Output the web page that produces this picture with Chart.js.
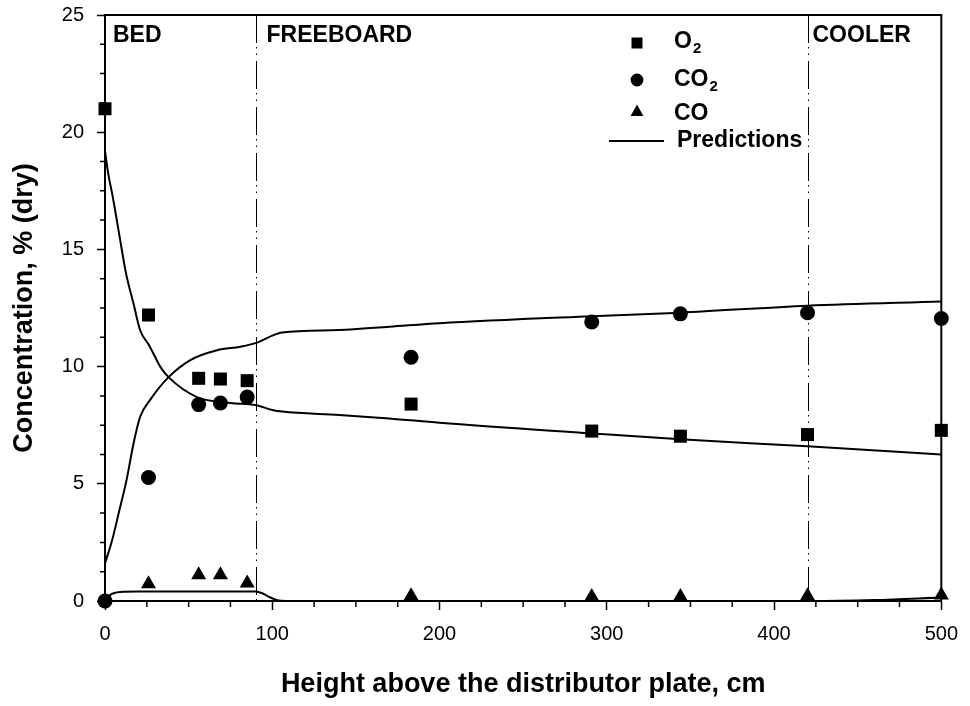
<!DOCTYPE html>
<html>
<head>
<meta charset="utf-8">
<script src="https://cdn.jsdelivr.net/npm/chart.js@4.4.1/dist/chart.umd.min.js"></script>
<style>
  html, body { margin: 0; padding: 0; background: #fff; }
  #wrap { width: 970px; height: 706px; }
</style>
</head>
<body>
<div id="wrap"><canvas id="c" width="970" height="706"></canvas></div>
<script>
// Measured gas concentrations (% dry) along the combustor height (cm)
const sampleHeights = [0, 26, 56, 69, 85, 183, 291, 344, 420, 500];
const o2Measured    = [21.0, 12.2, 9.5, 9.47, 9.4, 8.4, 7.25, 7.03, 7.1, 7.28];
const co2Measured   = [0, 5.27, 8.38, 8.45, 8.7, 10.4, 11.9, 12.25, 12.3, 12.05];
const coHeights     = [26, 56, 69, 85, 183, 291, 344, 420, 500];
const coMeasured    = [0.73, 1.11, 1.11, 0.76, 0.22, 0.18, 0.18, 0.22, 0.25];

// Model predictions
const o2PredHeights = [0, 2, 4.5, 8.6, 12.5, 17, 21, 26, 29, 33, 38, 55, 75, 90, 100, 106, 140, 170, 200, 291, 344, 420, 500];
const o2Predicted   = [19.2, 18.2, 17.3, 15.6, 14.0, 12.7, 11.55, 10.95, 10.55, 10.0, 9.55, 8.7, 8.45, 8.36, 8.15, 8.08, 7.94, 7.79, 7.6, 7.15, 6.9, 6.6, 6.25];
const co2PredHeights = [0, 4.3, 8.2, 13, 17, 21, 27, 38, 51, 67, 81, 90, 95, 100, 106, 140, 170, 200, 291, 344, 420, 500];
const co2Predicted   = [1.6, 2.6, 3.75, 5.2, 6.7, 7.86, 8.58, 9.55, 10.28, 10.7, 10.85, 11.0, 11.15, 11.32, 11.45, 11.56, 11.7, 11.85, 12.15, 12.3, 12.6, 12.78];
const coPredHeights = [0, 3, 9, 20, 90, 94, 98, 103, 108, 420, 460, 500];
const coPredicted   = [0, 0.25, 0.38, 0.4, 0.4, 0.33, 0.18, 0.03, 0, 0, 0.04, 0.15];

// Zone boundaries and names
const zoneBoundaries = [90, 420];
const zoneNames = [
  { text: 'BED', at: 0, dx: 8 },
  { text: 'FREEBOARD', at: 90, dx: 11 },
  { text: 'COOLER', at: 420, dx: 5 }
];

const xTickValues = [0, 100, 200, 300, 400, 500];
const yTickValues = [0, 5, 10, 15, 20, 25];

const FONT = '"Liberation Sans", Arial, Helvetica, sans-serif';

const toXY = (xs, ys) => xs.map((x, i) => ({ x, y: ys[i] }));

const markerSet = (label, xs, ys, style, radius) => ({
  type: 'scatter', label, data: toXY(xs, ys),
  pointStyle: style, pointRadius: radius, pointHoverRadius: radius,
  backgroundColor: '#000', borderColor: '#000', borderWidth: 0,
  showLine: false, clip: false, order: 1
});

const predictionSet = (label, xs, ys) => ({
  type: 'line', label, data: toXY(xs, ys),
  borderColor: '#000', borderWidth: 2, pointRadius: 0,
  cubicInterpolationMode: 'monotone', fill: false, clip: false, order: 2
});

// Frame, minor ticks, zone dividers, zone names and the key
const decorations = {
  id: 'decorations',
  beforeDatasetsDraw(chart) {
    const { ctx, chartArea: a, scales: { x } } = chart;
    ctx.save();
    ctx.strokeStyle = '#000';
    ctx.lineWidth = 1;
    ctx.setLineDash([28, 4, 1.5, 5, 1.5, 6]);
    zoneBoundaries.forEach(v => {
      const px = Math.round(x.getPixelForValue(v)) + 0.5;
      ctx.beginPath();
      ctx.moveTo(px, a.top);
      ctx.lineTo(px, a.bottom);
      ctx.stroke();
    });
    ctx.restore();
  },
  afterDraw(chart) {
    const { ctx, chartArea: a, scales: { x, y } } = chart;
    ctx.save();
    ctx.strokeStyle = '#000';
    // top and right frame
    ctx.lineWidth = 2;
    ctx.beginPath();
    ctx.moveTo(a.left, a.top);
    ctx.lineTo(a.right, a.top);
    ctx.lineTo(a.right, a.bottom);
    ctx.stroke();
    // minor ticks
    ctx.lineWidth = 1.5;
    ctx.beginPath();
    for (let i = 1; i < 20; i++) {
      if (i % 4 === 0) continue;
      const py = y.getPixelForValue(i * 1.25);
      ctx.moveTo(a.left - 5, py);
      ctx.lineTo(a.left, py);
      const px = x.getPixelForValue(i * 25);
      ctx.moveTo(px, a.bottom);
      ctx.lineTo(px, a.bottom + 6);
    }
    ctx.stroke();

    // zone names
    ctx.fillStyle = '#000';
    ctx.font = 'bold 23px ' + FONT;
    ctx.textBaseline = 'alphabetic';
    ctx.textAlign = 'left';
    zoneNames.forEach(z => {
      ctx.fillText(z.text, x.getPixelForValue(z.at) + z.dx, a.top + 27);
    });

    // key
    const kx = 637, tx = 674;
    ctx.beginPath();
    ctx.rect(kx - 5.5, 37.5, 11, 11);
    ctx.fill();
    ctx.beginPath();
    ctx.arc(kx, 80, 6.4, 0, Math.PI * 2);
    ctx.fill();
    ctx.beginPath();
    ctx.moveTo(kx, 104.5);
    ctx.lineTo(kx + 6.4, 116);
    ctx.lineTo(kx - 6.4, 116);
    ctx.closePath();
    ctx.fill();
    ctx.lineWidth = 2;
    ctx.beginPath();
    ctx.moveTo(609, 141);
    ctx.lineTo(664, 141);
    ctx.stroke();

    const withSub = (main, sub, px, base) => {
      ctx.font = 'bold 23px ' + FONT;
      ctx.fillText(main, px, base);
      const w = ctx.measureText(main).width;
      if (sub) {
        ctx.font = 'bold 15px ' + FONT;
        ctx.fillText(sub, px + w + 1, base + 5);
      }
    };
    withSub('O', '2', tx, 48);
    withSub('CO', '2', tx, 86);
    withSub('CO', '', tx, 120);
    withSub('Predictions', '', tx + 3, 147);
    ctx.restore();
  }
};

new Chart(document.getElementById('c'), {
  data: {
    datasets: [
      predictionSet('O2 predicted', o2PredHeights, o2Predicted),
      predictionSet('CO2 predicted', co2PredHeights, co2Predicted),
      predictionSet('CO predicted', coPredHeights, coPredicted),
      markerSet('O2', sampleHeights, o2Measured, 'rect', 9.2),
      markerSet('CO2', sampleHeights, co2Measured, 'circle', 7.5),
      markerSet('CO', coHeights, coMeasured, 'triangle', 8.66)
    ]
  },
  options: {
    responsive: false,
    devicePixelRatio: 1,
    animation: false,
    events: [],
    layout: { padding: { left: 0, top: 15, right: 28, bottom: 0 } },
    plugins: { legend: { display: false }, tooltip: { enabled: false } },
    scales: {
      x: {
        type: 'linear', position: 'bottom', min: 0, max: 500,
        afterBuildTicks: s => { s.ticks = xTickValues.map(v => ({ value: v })); },
        afterFit: s => { s.height = 105; },
        ticks: { color: '#000', font: { family: FONT, size: 20 }, padding: 12, maxRotation: 0, autoSkip: false },
        grid: { drawOnChartArea: false, tickLength: 9, tickColor: '#000', tickWidth: 1.5 },
        border: { color: '#000', width: 2 },
        title: {
          display: true, text: 'Height above the distributor plate, cm', color: '#000',
          font: { family: FONT, size: 27, weight: 'bold' }, padding: { top: 0, bottom: 5 }
        }
      },
      y: {
        type: 'linear', position: 'left', min: 0, max: 25,
        afterBuildTicks: s => { s.ticks = yTickValues.map(v => ({ value: v })); },
        afterFit: s => { s.width = 105; s.paddingTop = 0; s.paddingBottom = 0; },
        ticks: { color: '#000', font: { family: FONT, size: 20 }, padding: 13 },
        grid: { drawOnChartArea: false, tickLength: 8, tickColor: '#000', tickWidth: 1.5 },
        border: { color: '#000', width: 2 },
        title: {
          display: true, text: 'Concentration, % (dry)', color: '#000',
          font: { family: FONT, size: 27, weight: 'bold' }, padding: { top: 8, bottom: 0 }
        }
      }
    }
  },
  plugins: [decorations]
});
</script>
</body>
</html>
